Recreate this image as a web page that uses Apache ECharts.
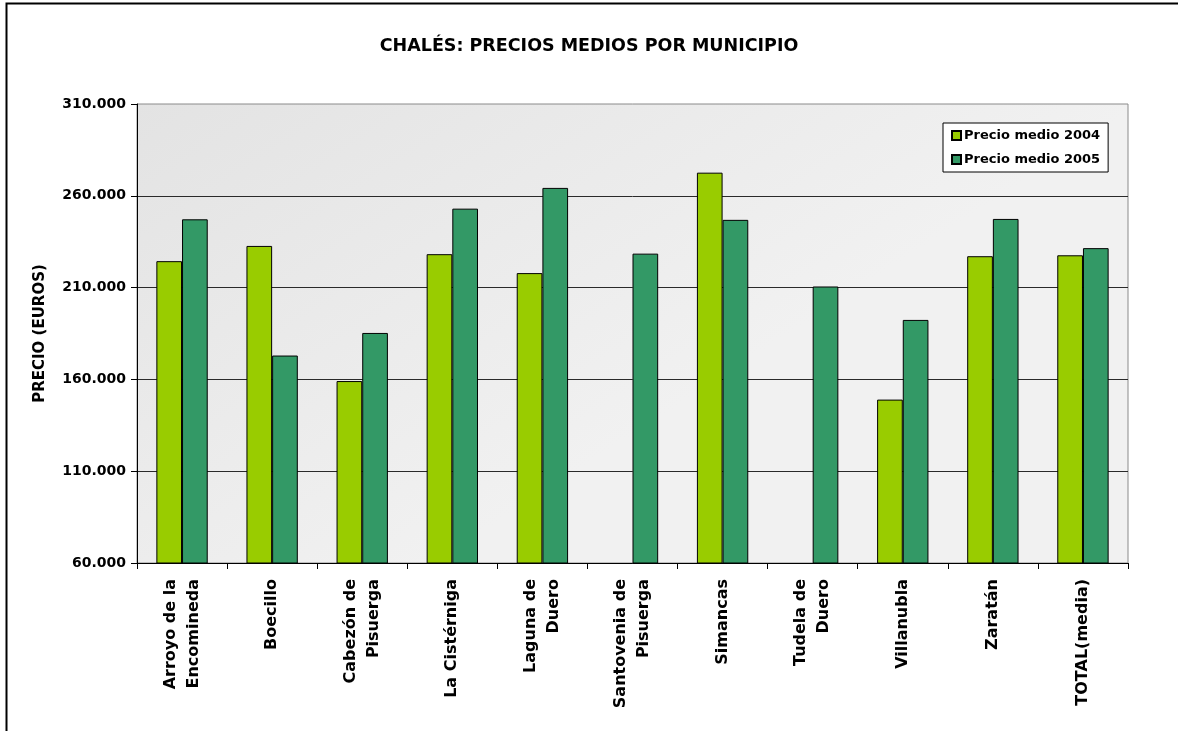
<!DOCTYPE html>
<html>
<head>
<meta charset="utf-8">
<script src="https://cdn.jsdelivr.net/npm/echarts@6/dist/echarts.min.js"></script>
<style>
  html, body { margin: 0; padding: 0; background: #fff; }
  #chart { width: 1178px; height: 731px; }
</style>
</head>
<body>
<div id="chart"></div>
<script>
// ---- data ----
const categories = [
  "Arroyo de la\nEncomineda", "Boecillo", "Cabezón de\nPisuerga", "La Cistérniga",
  "Laguna de\nDuero", "Santovenia de\nPisuerga", "Simancas", "Tudela de\nDuero",
  "Villanubla", "Zaratán", "TOTAL(media)"
];
const precio2004 = [224400, 232700, 159100, 228200, 217900, null, 272600, null, 149000, 227100, 227600];
const precio2005 = [247200, 173000, 185300, 253000, 264300, 228500, 246900, 210600, 192400, 247400, 231500];
const seriesNames = ["Precio medio 2004", "Precio medio 2005"];
const yMin = 60000, yMax = 310000, yStep = 50000;

const FONT = "DejaVu Sans";
const fmt = v => String(v).replace(/\B(?=(\d{3})+(?!\d))/g, ".");

const chart = echarts.init(document.getElementById("chart"), null, { renderer: "canvas" });
chart.setOption({
  backgroundColor: "#ffffff",
  animation: false,
  graphic: [{
    type: "polyline",
    shape: { points: [[6.5, 740], [6.5, 3.5], [1190, 3.5]] },
    style: { fill: null, stroke: "#000", lineWidth: 2 },
    silent: true, z: 100
  }],
  title: {
    text: "CHALÉS: PRECIOS MEDIOS POR MUNICIPIO",
    left: "center", top: 32,
    textStyle: { fontFamily: FONT, fontWeight: "bold", fontSize: 17.5, color: "#000" }
  },
  legend: {
    orient: "vertical",
    left: 943, top: 123,
    padding: [6, 8, 6, 8],
    backgroundColor: "#fff",
    borderColor: "#000", borderWidth: 1,
    itemWidth: 9, itemHeight: 9, itemGap: 11,
    icon: "rect",
    textStyle: { fontFamily: FONT, fontWeight: "bold", fontSize: 13, color: "#000", padding: [0, 0, 0, -2] },
    data: seriesNames
  },
  grid: {
    left: 137, right: 50, top: 104, bottom: 168,
    show: true,
    backgroundColor: new echarts.graphic.LinearGradient(0, 0, 0.3, 1, [
      { offset: 0, color: "#e3e3e3" },
      { offset: 1, color: "#f1f1f1" }
    ]),
    borderColor: "#8a8a8a", borderWidth: 1
  },
  xAxis: {
    type: "category",
    data: categories,
    axisLine: { lineStyle: { color: "#000", width: 1 } },
    axisTick: { show: true, length: 6, lineStyle: { color: "#000" } },
    axisLabel: {
      rotate: 90, interval: 0, margin: 16,
      fontFamily: FONT, fontWeight: "bold", fontSize: 16, lineHeight: 23, color: "#000"
    },
    splitLine: { show: false }
  },
  yAxis: {
    type: "value",
    min: yMin, max: yMax, interval: yStep,
    name: "PRECIO (EUROS)",
    nameLocation: "middle", nameGap: 89,
    nameTextStyle: { fontFamily: FONT, fontWeight: "bold", fontSize: 15, color: "#000" },
    axisLine: { show: true, lineStyle: { color: "#000", width: 1 } },
    axisTick: { show: true, length: 6, lineStyle: { color: "#000" } },
    axisLabel: {
      margin: 11, formatter: fmt,
      fontFamily: FONT, fontWeight: "bold", fontSize: 14, color: "#000"
    },
    splitLine: { show: true, showMaxLine: false, lineStyle: { color: "#2a2a2a", width: 1 } }
  },
  series: [
    {
      name: seriesNames[0], type: "bar", data: precio2004,
      barWidth: "28.5%", barGap: "0%",
      itemStyle: { color: "#99CC00", borderColor: "#000", borderWidth: 1 }
    },
    {
      name: seriesNames[1], type: "bar", data: precio2005,
      barWidth: "28.5%", barGap: "0%",
      itemStyle: { color: "#339966", borderColor: "#000", borderWidth: 1 }
    }
  ]
});
</script>
</body>
</html>
